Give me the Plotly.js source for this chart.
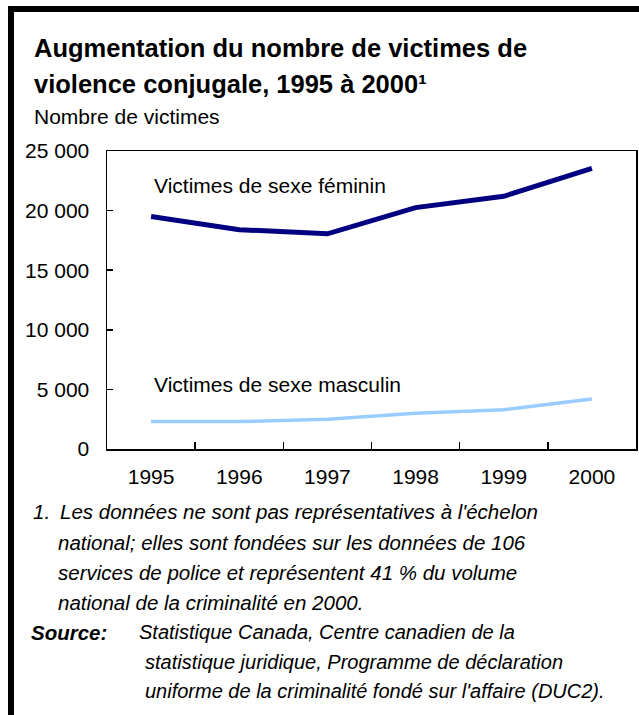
<!DOCTYPE html>
<html>
<head>
<meta charset="utf-8">
<script src="https://cdn.plot.ly/plotly-3.0.1.min.js"></script>
<style>
  body { margin: 0; background: #fff; }
  #frame { position: absolute; left: 8px; top: 6px; width: 631px; height: 709px;
           border-top: 6px solid #000; border-left: 6px solid #000; box-sizing: border-box; }
  #chart { position: absolute; left: 0; top: 0; width: 639px; height: 715px; }
</style>
</head>
<body>
<div id="frame"></div>
<div id="chart"></div>
<script>
// data
var years = ['1995', '1996', '1997', '1998', '1999', '2000'];
var femmes = [19500, 18400, 18050, 20250, 21200, 23550];
var hommes = [2300, 2300, 2500, 3000, 3300, 4200];

var yTickVals = [0, 5000, 10000, 15000, 20000, 25000];
var yTickText = ['0', '5 000', '10 000', '15 000', '20 000', '25 000'];

var seriesNames = ['Victimes de sexe féminin', 'Victimes de sexe masculin'];
var titleLines = ['Augmentation du nombre de victimes de', 'violence conjugale, 1995 à 2000¹'];
var noteLines = [
  "national; elles sont fondées sur les données de 106",
  "services de police et représentent 41 % du volume",
  "national de la criminalité en 2000."
];
var sourceLines = [
  "Statistique Canada, Centre canadien de la",
  "statistique juridique, Programme de déclaration",
  "uniforme de la criminalité fondé sur l'affaire (DUC2)."
];

var FONT = 'Arial, "Liberation Sans", sans-serif';

// plot area in page pixels: left 107, right 636, top 151, bottom 449
function px(x) { return (x - 107) / 529; }
function py(y) { return (449 - y) / 298; }

var trace1 = {
  x: years, y: femmes, type: 'scatter', mode: 'lines', name: seriesNames[0],
  line: { color: '#000080', width: 5 },
  hoverinfo: 'skip'
};
var trace2 = {
  x: years, y: hommes, type: 'scatter', mode: 'lines', name: seriesNames[1],
  line: { color: '#99ccff', width: 3.5 },
  hoverinfo: 'skip'
};

function txt(text, x, y, size) {
  return {
    text: text, xref: 'paper', yref: 'paper', x: px(x), y: py(y),
    xanchor: 'left', yanchor: 'middle', showarrow: false,
    font: { family: FONT, size: size, color: '#000' }
  };
}

var ann = [];
ann.push(txt('<b>' + titleLines[0] + '</b>', 32, 48, 25.5));
ann.push(txt('<b>' + titleLines[1] + '</b>', 32, 84, 25.5));
ann.push(txt('Nombre de victimes', 32, 116, 21));

// series labels
ann.push(txt(seriesNames[0], 152, 185, 21));
ann.push(txt(seriesNames[1], 152, 384, 21));

// footnote
ann.push(txt('<i>1.</i>', 31, 511, 20.5));
ann.push(txt("<i>Les données ne sont pas représentatives à l'échelon</i>", 58, 511, 20.5));
for (var i = 0; i < noteLines.length; i++) {
  ann.push(txt('<i>' + noteLines[i] + '</i>', 56, 542 + i * 30, 20.5));
}
ann.push(txt('<b><i>Source:</i></b>', 29, 632, 20.5));
for (var j = 0; j < sourceLines.length; j++) {
  ann.push(txt('<i>' + sourceLines[j] + '</i>', j === 0 ? 137 : 143, 632 + j * 29.5, 20));
}

var layout = {
  width: 639, height: 715,
  margin: { l: 107, r: 3, t: 151, b: 266 },
  paper_bgcolor: 'rgba(0,0,0,0)',
  plot_bgcolor: 'rgba(0,0,0,0)',
  showlegend: false,
  font: { family: FONT, size: 21, color: '#000' },
  xaxis: {
    type: 'category', range: [-0.5, 5.5],
    showgrid: false, zeroline: false,
    showline: true, mirror: true, linecolor: '#000', linewidth: 1.5,
    ticks: 'inside', tickson: 'boundaries', ticklen: 7, tickwidth: 1.5, tickcolor: '#000',
    ticklabelstandoff: 8,
    tickfont: { family: FONT, size: 21, color: '#000' }
  },
  yaxis: {
    range: [0, 25000],
    showgrid: false, zeroline: false,
    showline: true, mirror: true, linecolor: '#000', linewidth: 1.5,
    ticks: 'inside', ticklen: 6, tickwidth: 1.5, tickcolor: '#000',
    tickvals: yTickVals, ticktext: yTickText,
    ticklabelstandoff: 12,
    tickfont: { family: FONT, size: 21, color: '#000' }
  },
  annotations: ann
};

Plotly.newPlot('chart', [trace1, trace2], layout, { displayModeBar: false, staticPlot: true });
</script>
</body>
</html>
